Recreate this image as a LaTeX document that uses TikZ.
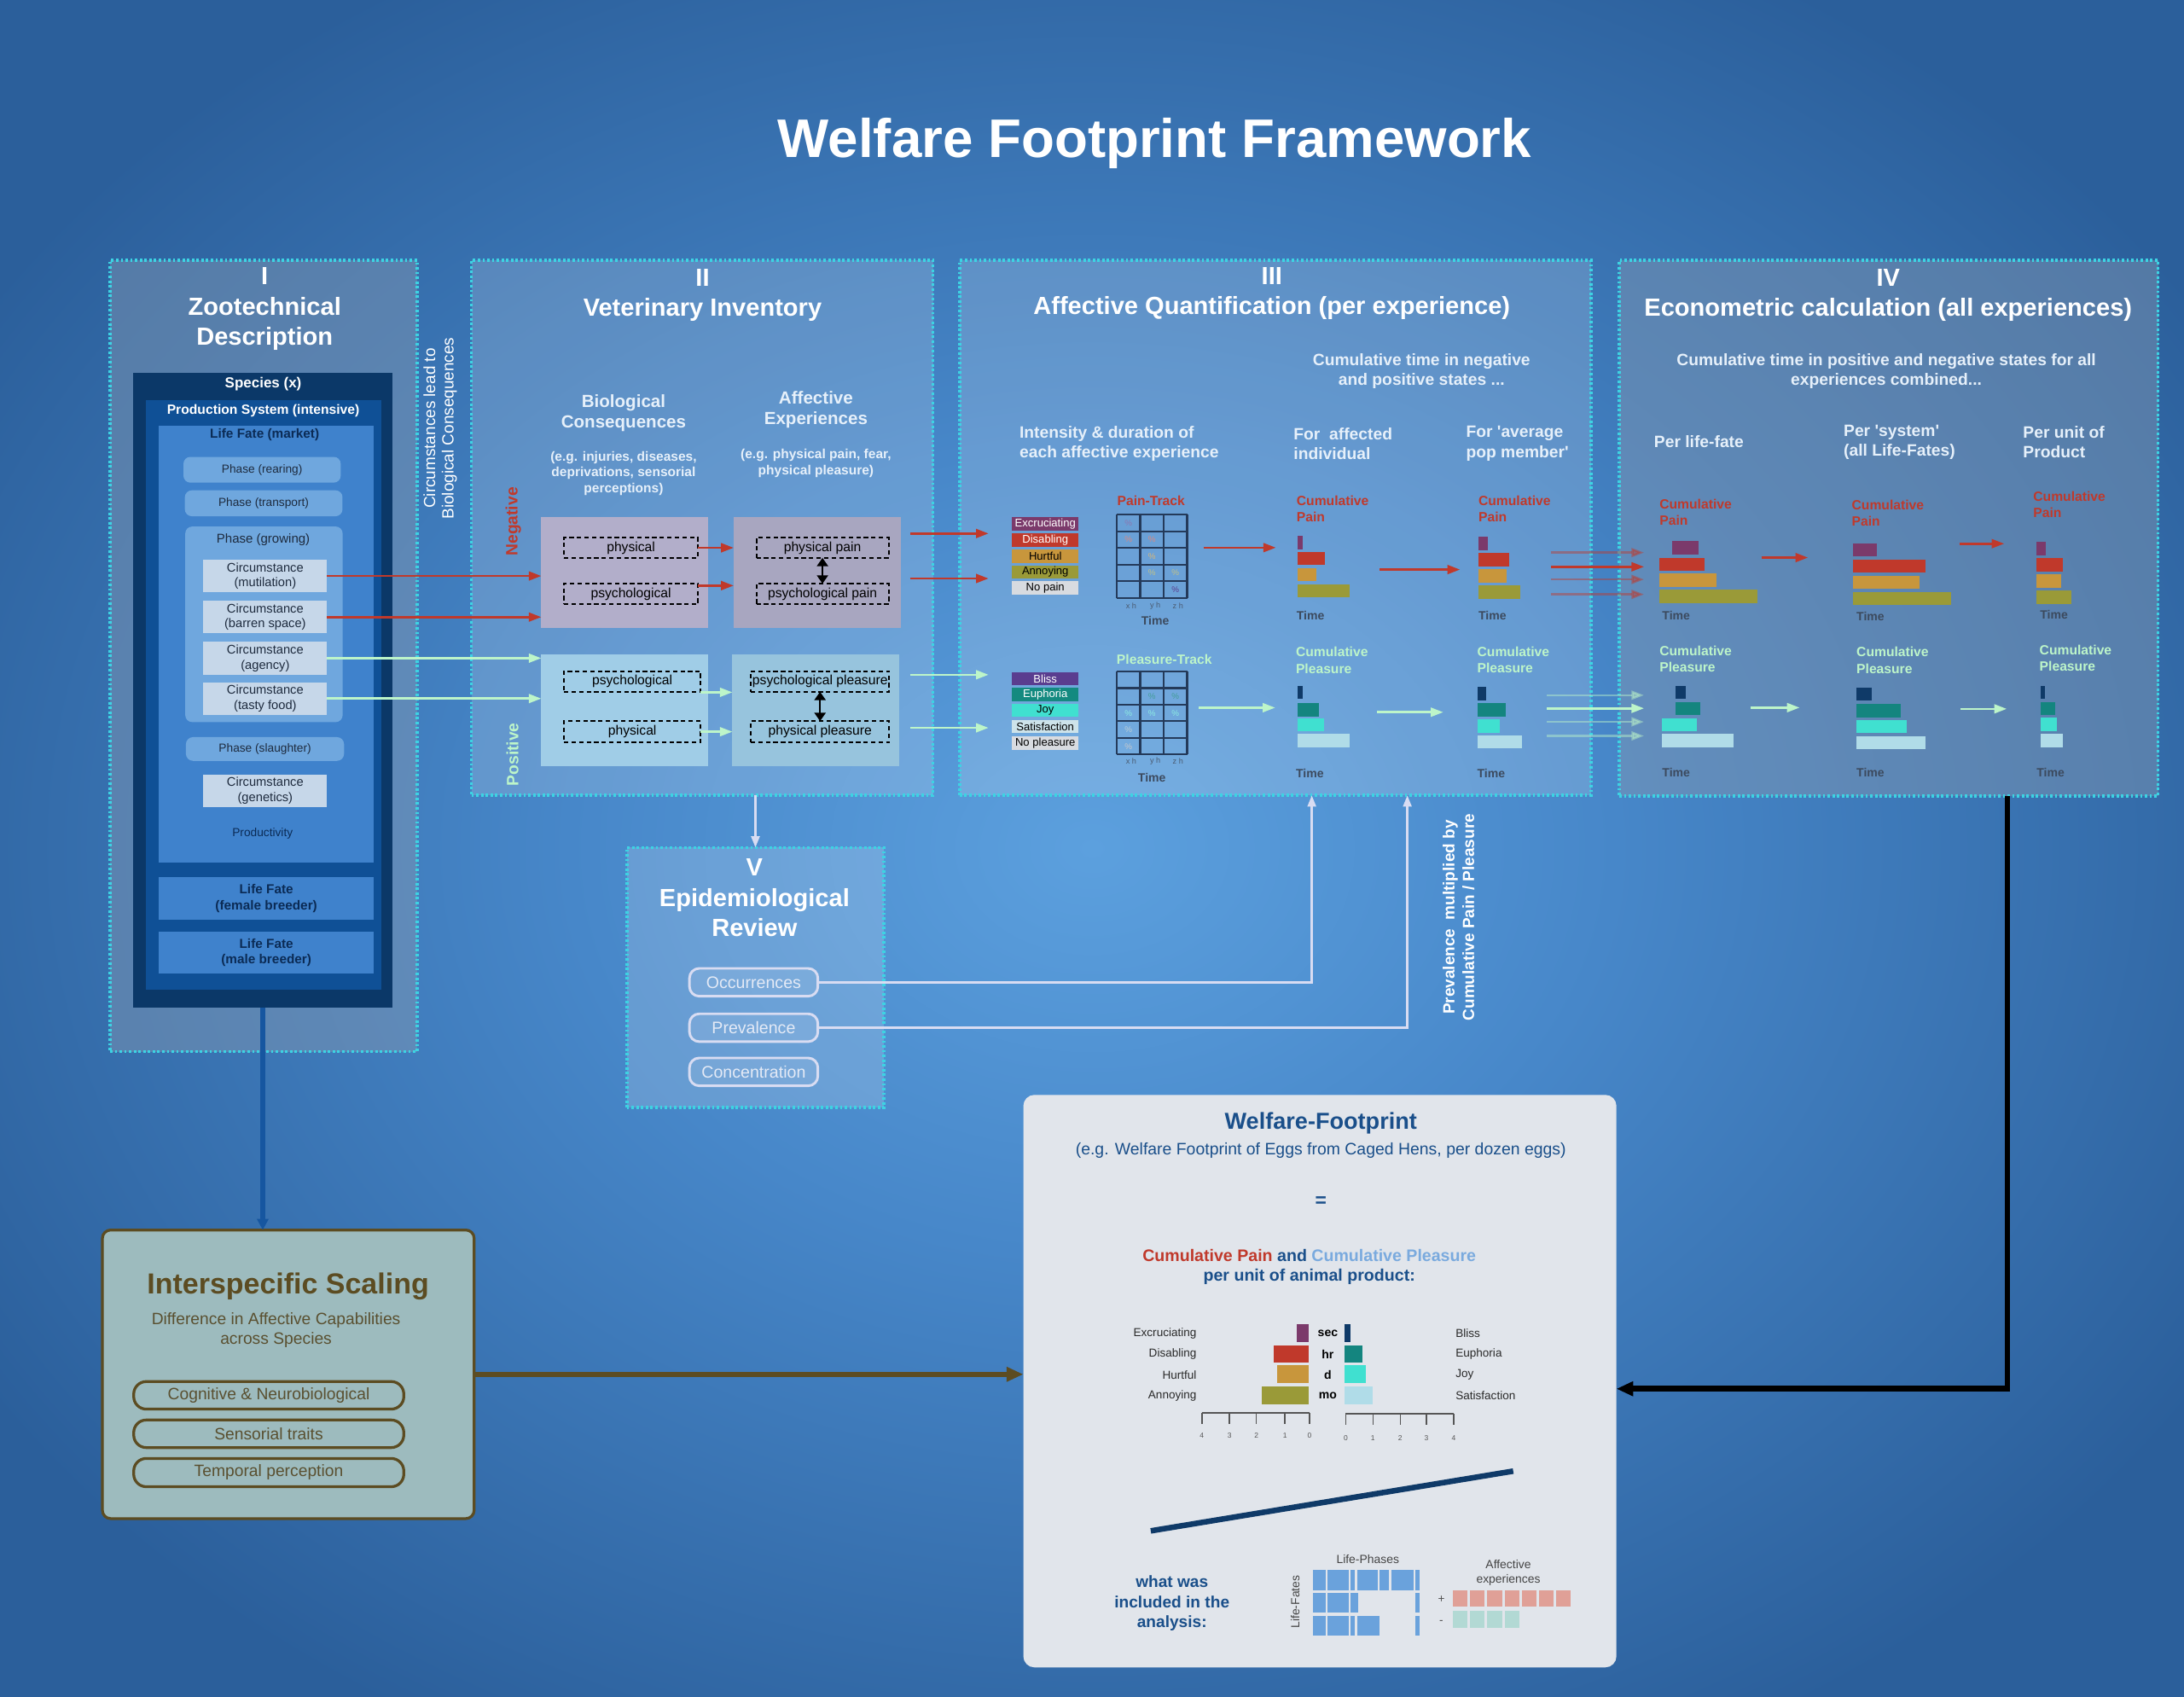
\documentclass[tikz,border=0pt]{standalone}
\usepackage{fontspec}
\setmainfont{Liberation Sans}
\usetikzlibrary{arrows.meta,fit}
\definecolor{bgin}{HTML}{5CA0DE}
\definecolor{bgmid}{HTML}{4787C9}
\definecolor{bgout}{HTML}{2B5F9B}
\definecolor{dotc}{HTML}{3DD3E3}
\definecolor{grayov}{HTML}{869AB2}
\definecolor{spnavy}{HTML}{0B3868}
\definecolor{prodblue}{HTML}{0F5096}
\definecolor{lfblue}{HTML}{3F82CC}
\definecolor{phblue}{HTML}{6FA7DE}
\definecolor{circ}{HTML}{C6D7E9}
\definecolor{navytxt}{HTML}{0B2B55}
\definecolor{darktxt}{HTML}{1E2B3E}
\definecolor{subc}{HTML}{E6F0FA}
\definecolor{negbio}{HTML}{B2AECA}
\definecolor{negaff}{HTML}{A8A6C0}
\definecolor{posbio}{HTML}{A0CDE7}
\definecolor{posaff}{HTML}{97C4DD}
\definecolor{painred}{HTML}{C0392B}
\definecolor{plgreen}{HTML}{BDF5C9}
\definecolor{pur}{HTML}{7B3A6B}
\definecolor{och}{HTML}{C8963C}
\definecolor{oli}{HTML}{9A9A38}
\definecolor{navyb}{HTML}{0F3A68}
\definecolor{tealb}{HTML}{14857F}
\definecolor{turq}{HTML}{40E0D0}
\definecolor{lightb}{HTML}{B0DCE8}
\definecolor{bliss}{HTML}{5A3D8F}
\definecolor{euph}{HTML}{148A80}
\definecolor{satis}{HTML}{CDE3EA}
\definecolor{nop}{HTML}{D8DBE0}
\definecolor{timec}{HTML}{3C4A5E}
\definecolor{gridc}{HTML}{243A5A}
\definecolor{wfbg}{HTML}{E1E5EB}
\definecolor{wfblue}{HTML}{1A4F8A}
\definecolor{plblue}{HTML}{7AAADE}
\definecolor{isbg}{HTML}{9DBBBE}
\definecolor{isbrown}{HTML}{5C4C22}
\definecolor{istext}{HTML}{5A5030}
\definecolor{lav}{HTML}{D8DCF2}
\definecolor{vtext}{HTML}{E4EAF6}
\definecolor{blockb}{HTML}{6AA2DC}
\definecolor{salmon}{HTML}{E0A097}
\definecolor{paleteal}{HTML}{B2D9D4}
\definecolor{chtxt}{HTML}{2A2A2A}
\definecolor{axc}{HTML}{555555}
\definecolor{arrblue}{HTML}{1656A0}
\definecolor{xhc}{HTML}{4A5A70}
\pgfdeclareradialshading{bgshade}{\pgfpoint{0bp}{0bp}}{color(0bp)=(bgin); color(12bp)=(bgmid); color(30bp)=(bgout); color(50bp)=(bgout)}
\newcommand\fs[2]{\fontsize{#1pt}{#2pt}\selectfont}
\newcommand\hb[4]{\fill[#4] (#1,#2) rectangle ++(#3,9.5);}
% box node: [options]{name}{x1}{y1}{x2}{y2}{text}
\newcommand\bx[7][]{\node[#1,minimum width={(#5-#3)*0.5pt},minimum height={(#6-#4)*0.5pt}] (#2) at ({(#3+#5)/2},{(#4+#6)/2}) {#7};}
\begin{document}
\begin{tikzpicture}[x=0.5pt,y=-0.5pt,
  every node/.style={inner sep=0pt,outer sep=0pt},
  secbox/.style={draw=dotc,line width=1.1pt,dash pattern=on 0.85pt off 0.85pt},
  sectitle/.style={text=white,font=\fs{8.9}{10.85}\bfseries,align=center},
  phbox/.style={fill=phblue,rounded corners=2.5pt,text=darktxt,font=\fs{4.2}{5}},
  cbox/.style={fill=circ,text=darktxt,font=\fs{4.5}{5.4},align=center},
  lfbox/.style={fill=lfblue,text=navytxt,font=\fs{4.7}{5.75}\bfseries,align=center},
  sub/.style={text=subc,font=\fs{6.3}{7.4}\bfseries,align=center},
  subs/.style={text=subc,font=\fs{4.75}{5.7}\bfseries,align=center},
  hd/.style={text=subc,font=\fs{5.9}{7.1}\bfseries,align=left,anchor=west},
  dbox/.style={draw=black,dash pattern=on 1.6pt off 1.1pt,line width=0.6pt,font=\fs{4.8}{5.8},text=black},
  cpain/.style={text=painred,font=\fs{4.8}{5.85}\bfseries,align=left,anchor=west},
  cplea/.style={text=plgreen,font=\fs{4.8}{5.85}\bfseries,align=left,anchor=west},
  timel/.style={text=timec,font=\fs{4.3}{5}\bfseries,anchor=west},
  lg/.style={font=\fs{4}{4.8}},
  xh/.style={text=xhc,font=\fs{2.8}{3.2}},
  pct/.style={font=\fs{3}{3.6}},
  gl/.style={draw=gridc,line width=0.65pt},
  redarr/.style={draw=painred,line width=0.8pt,-{Triangle[length=4.5pt,width=3.2pt]}},
  grnarr/.style={draw=plgreen,line width=0.8pt,-{Triangle[length=4.5pt,width=3.2pt]}},
  faint/.style={opacity=0.45},
  dblarr/.style={draw=black,line width=0.6pt,{Triangle[length=3pt,width=4pt]}-{Triangle[length=3pt,width=4pt]}},
  lavarr/.style={draw=lav,line width=0.75pt,-{Triangle[length=4pt,width=3pt]}},
  vopt/.style={draw=lav,line width=0.9pt,rounded corners=3.5pt,fill=white,fill opacity=0.1,text opacity=1,text=vtext,font=\fs{6}{7}},
  isopt/.style={draw=isbrown,line width=1pt,rounded corners=4.5pt,text=istext,font=\fs{5.9}{7}},
  chl/.style={font=\fs{4.15}{5},text=chtxt},
  chc/.style={font=\fs{4.3}{5}\bfseries,text=black},
  axl/.style={font=\fs{2.6}{3},text=axc},
  ax/.style={draw=axc,line width=0.5pt}
]
\useasboundingbox (0,0) rectangle (1568,1218);
\shade[shading=bgshade] (0,0) rectangle (1568,1218);

% ---------- title
\node[text=white,font=\fs{19.5}{23}\bfseries] (title) at (829,103) {Welfare Footprint Framework};

% ---------- section frames
\node[secbox,fill=grayov,fill opacity=0.45,fit={(79,187) (299.5,755)}] (S1) {};
\node[secbox,fill=white,fill opacity=0.17,fit={(338.5,187) (669.8,571)}] (S2) {};
\node[secbox,fill=white,fill opacity=0.17,fit={(689,187) (1142.3,571)}] (S3) {};
\node[secbox,fill=grayov,fill opacity=0.45,fit={(1162.5,187) (1549.3,571.5)}] (S4) {};
\node[secbox,fill=white,fill opacity=0.17,fit={(450,608.4) (634.7,795.2)}] (S5) {};

\node[sectitle] (t1) at (190,222) {I\\Zootechnical\\Description};
\node[sectitle] (t2) at (504.4,212) {II\\Veterinary Inventory};
\node[sectitle] (t3) at (913.1,210.7) {III\\Affective Quantification (per experience)};
\node[sectitle] (t4) at (1355.6,211.9) {IV\\Econometric calculation (all experiences)};
\node[sectitle] (t5) at (541.7,644.5) {V\\Epidemiological\\Review};

% ---------- section I
\node[fill=spnavy,fit={(95.6,267.8) (281.7,723.3)}] (species) {};
\node[text=white,font=\fs{5.2}{6}\bfseries] (spt) at (189,276) {Species (x)};
\node[fill=prodblue,fit={(104.7,287.5) (273.6,710.3)}] (prod) {};
\node[text=white,font=\fs{4.8}{6}\bfseries] (prodt) at (189,294.9) {Production System (intensive)};
\node[fill=lfblue,fit={(113.9,305.6) (268.5,619.2)}] (lfm) {};
\node[text=navytxt,font=\fs{4.7}{6}\bfseries] (lfmt) at (190,312.4) {Life Fate (market)};
\bx[phbox]{ph1}{131.7}{328}{244.6}{346.5}{Phase (rearing)}
\bx[phbox]{ph2}{132.7}{352}{245.9}{370.6}{Phase (transport)}
\bx[phbox]{ph3}{133}{378}{246}{518.4}{}
\node[text=darktxt,font=\fs{4.6}{5.5}] (ph3t) at (189,387.7) {Phase (growing)};
\bx[cbox]{c1}{146}{401.8}{234.8}{425.2}{Circumstance\\(mutilation)}
\bx[cbox]{c2}{146}{431.5}{234.8}{454.5}{Circumstance\\(barren space)}
\bx[cbox]{c3}{146}{460.8}{234.8}{484.2}{Circumstance\\(agency)}
\bx[cbox]{c4}{146}{489.8}{234.8}{513.2}{Circumstance\\(tasty food)}
\bx[phbox]{ph4}{133.5}{529.2}{247}{546.2}{Phase (slaughter)}
\bx[cbox]{c5}{146}{555.9}{234.8}{579.3}{Circumstance\\(genetics)}
\node[text=navytxt,font=\fs{4.2}{5}] (prodv) at (188.5,598.2) {Productivity};
\bx[lfbox]{lff}{113.9}{629.4}{268.5}{660.2}{Life Fate\\(female breeder)}
\bx[lfbox]{lfmale}{113.9}{668.7}{268.5}{699.1}{Life Fate\\(male breeder)}

\node[text=white,font=\fs{5.8}{6.6},rotate=90,align=center] (circlead) at (316,307.5) {Circumstances lead to\\Biological Consequences};

% ---------- section II
\node[sub] (bch) at (447.7,296.8) {Biological\\Consequences};
\node[subs] (bce) at (447.7,339.7) {(e.g. injuries, diseases,\\deprivations, sensorial\\perceptions)};
\node[sub] (aeh) at (585.8,294) {Affective\\Experiences};
\node[subs] (aee) at (585.8,332.6) {(e.g. physical pain, fear,\\physical pleasure)};

\node[fill=negbio,fit={(388.6,371.3) (508.3,451.1)}] (nb) {};
\node[fill=negaff,fit={(526.7,371.3) (646.6,451.1)}] (na) {};
\node[fill=posbio,fit={(388.6,469.9) (508.3,550)}] (pb) {};
\node[fill=posaff,fit={(525.8,469.9) (645.5,550)}] (pa) {};

\bx[dbox]{nb1}{404.9}{386}{501.1}{400.5}{physical}
\bx[dbox]{nb2}{404.9}{419}{501.1}{433.8}{psychological}
\bx[dbox]{na1}{543}{386}{638}{400.5}{physical pain}
\bx[dbox]{na2}{543}{419}{638}{433.8}{psychological pain}
\bx[dbox]{pb1}{404.9}{481.8}{503}{496.6}{psychological}
\bx[dbox]{pb2}{404.9}{517.7}{503}{532.9}{physical}
\bx[dbox]{pa1}{539}{481.8}{638.5}{496.6}{psychological pleasure}
\bx[dbox]{pa2}{539}{517.7}{638.5}{532.9}{physical pleasure}

\draw[redarr] (nb1.east) -- (nb1.east -| na.west);
\draw[redarr] ([yshift=3pt]nb2.east) -- ([yshift=3pt]nb2.east -| na.west);
\draw[grnarr] ([yshift=-3.9pt]pb1.east) -- ([yshift=-3.9pt]pb1.east -| pa.west);
\draw[grnarr] (pb2.east) -- (pb2.east -| pa.west);
\draw[dblarr] (na1.south) -- (na2.north);
\draw[dblarr] (pa1.south) -- (pa2.north);

\draw[redarr] (c1.east) -- (c1.east -| nb.west);
\draw[redarr] (c2.east) -- (c2.east -| nb.west);
\draw[grnarr] (c3.east) -- (c3.east -| pb.west);
\draw[grnarr] (c4.east) -- (c4.east -| pb.west);

\node[rotate=90,text=painred,font=\fs{5.9}{7}\bfseries] (neg) at (368.6,374.5) {Negative};
\node[rotate=90,text=plgreen,font=\fs{5.9}{7}\bfseries] (pos) at (368,541.6) {Positive};

% ---------- section III
\node[text=subc,font=\fs{5.9}{7.1}\bfseries,align=center] (cumtime) at (1020.6,266.6) {Cumulative time in negative\\and positive states ...};
\node[hd] (int) at (732,318.4) {Intensity \& duration of\\each affective experience};
\node[hd] (faff) at (928.8,318.4) {For\ \ affected\\individual};
\node[hd] (favg) at (1052.6,318.4) {For \textquotesingle average\\pop member\textquotesingle};

\bx[lg,fill=pur,text=white]{lx}{726.7}{371.3}{774.2}{381}{Excruciating}
\bx[lg,fill=painred,text=white]{ld}{726.7}{382.9}{774.2}{392.5}{Disabling}
\bx[lg,fill=och,text=black]{lh}{726.7}{394.4}{774.2}{404}{Hurtful}
\bx[lg,fill=oli,text=black]{la}{726.7}{405.9}{774.2}{415.5}{Annoying}
\bx[lg,fill=nop,text=black]{ln}{726.7}{417.4}{774.2}{427}{No pain}

\bx[lg,fill=bliss,text=white]{lb}{726.7}{482.6}{774.2}{492}{Bliss}
\bx[lg,fill=euph,text=white]{le}{726.7}{493.8}{774.2}{503.4}{Euphoria}
\bx[lg,fill=turq,text=black]{lj}{726.7}{505.2}{774.2}{514.8}{Joy}
\bx[lg,fill=satis,text=black]{ls}{726.7}{516.8}{774.2}{526.4}{Satisfaction}
\bx[lg,fill=nop,text=black]{lnp}{726.7}{528.4}{774.2}{538.3}{No pleasure}

\coordinate (o1) at (653.5,383);
\coordinate (o2) at (653.5,415.3);
\coordinate (o3) at (653.5,484.4);
\coordinate (o4) at (653.5,522.5);
\draw[redarr] (o1) -- ([xshift=-8.5pt]o1 -| lx.west);
\draw[redarr] (o2) -- ([xshift=-8.5pt]o2 -| lx.west);
\draw[grnarr] (o3) -- ([xshift=-8.5pt]o3 -| lb.west);
\draw[grnarr] (o4) -- ([xshift=-8.5pt]o4 -| lb.west);

% pain track
\node[text=painred,font=\fs{4.8}{5.8}\bfseries] (ptt) at (826.4,359.6) {Pain-Track};
\node[fit={(801.7,369.5) (852.3,429.2)}] (pgrid) {};
\foreach \i in {0,...,3} \draw[gl] (801.7+\i*16.867,369.5) -- (801.7+\i*16.867,429.2);
\foreach \j in {0,...,5} \draw[gl] (801.7,369.5+\j*11.94) -- (852.3,369.5+\j*11.94);
\node[pct,text=bliss!70!white] (pp1) at (810.1,375.5) {\%};
\node[pct,text=painred!60!white] (pp2) at (810.1,387.4) {\%};
\node[pct,text=painred!60!white] (pp3) at (827,387.4) {\%};
\node[pct,text=och!70!white] (pp4) at (827,399.4) {\%};
\node[pct,text=oli!60!white] (pp5) at (827,411.3) {\%};
\node[pct,text=oli!60!white] (pp6) at (843.9,411.3) {\%};
\node[pct,text=bliss] (pp7) at (843.9,423.3) {\%};
\node[xh] (px1) at (812.1,434.8) {x h};
\node[xh] (px2) at (829.4,434.8) {y h};
\node[xh] (px3) at (845.7,434.8) {z h};
\node[timel,anchor=center] (ptime) at (829.4,445.3) {Time};

% pleasure track
\node[text=plgreen,font=\fs{4.8}{5.8}\bfseries] (plt) at (835.9,473.7) {Pleasure-Track};
\node[fit={(801.7,482.1) (852.3,541.6)}] (plgrid) {};
\foreach \i in {0,...,3} \draw[gl] (801.7+\i*16.867,482.1) -- (801.7+\i*16.867,541.6);
\foreach \j in {0,...,5} \draw[gl] (801.7,482.1+\j*11.9) -- (852.3,482.1+\j*11.9);
\node[pct,text=tealb!80!white] (lp1) at (827,500) {\%};
\node[pct,text=tealb!80!white] (lp2) at (843.9,500) {\%};
\node[pct,text=turq!60!white] (lp3) at (810.1,512) {\%};
\node[pct,text=turq!60!white] (lp4) at (827,512) {\%};
\node[pct,text=turq!60!white] (lp5) at (843.9,512) {\%};
\node[pct,text=satis!80!gray] (lp6) at (810.1,523.9) {\%};
\node[pct,text=nop!80!gray] (lp7) at (810.1,535.9) {\%};
\node[xh] (lx1) at (812.1,546.6) {x h};
\node[xh] (lx2) at (829.4,546.6) {y h};
\node[xh] (lx3) at (845.7,546.6) {z h};
\node[timel,anchor=center] (ltime) at (827,558.1) {Time};

\draw[redarr] ([xshift=5.85pt,yshift=3.1pt]pgrid.east) -- ++(52,0);
\draw[grnarr] ([xshift=4.15pt,yshift=1.9pt]plgrid.east) -- ++(54.9,0);

% affected individual
\node[cpain] (cp1) at (930.9,365.5) {Cumulative\\Pain};
\hb{931.8}{384.8}{3.6}{pur}
\hb{931.8}{396.2}{19.3}{painred}
\hb{931.8}{407.9}{13.1}{och}
\hb{931.8}{419.3}{37.1}{oli}
\node[timel] (tm1) at (930.9,442) {Time};
\node[cplea] (cl1) at (930.4,474) {Cumulative\\Pleasure};
\hb{931.8}{492.3}{3.6}{navyb}
\hb{931.8}{504.9}{15.1}{tealb}
\hb{931.8}{515.6}{19}{turq}
\hb{931.8}{527}{37.4}{lightb}
\node[timel] (tm2) at (930.4,555) {Time};

\coordinate (a1) at (990.3,408.9);
\coordinate (a2) at (988.7,511.3);
\draw[redarr] (a1) -- ++(57.9,0);
\draw[grnarr] (a2) -- ++(47.5,0);

% average pop member
\node[cpain] (cp2) at (1061.5,365.5) {Cumulative\\Pain};
\hb{1061.5}{385.5}{6.5}{pur}
\hb{1061.5}{397}{21.7}{painred}
\hb{1061.5}{408.7}{20.2}{och}
\hb{1061.5}{420.3}{29.7}{oli}
\node[timel] (tm3) at (1061.5,442) {Time};
\node[cplea] (cl2) at (1060.6,473.5) {Cumulative\\Pleasure};
\hb{1060.6}{493.2}{6.2}{navyb}
\hb{1060.6}{504.7}{20.2}{tealb}
\hb{1060.6}{516.4}{16}{turq}
\hb{1060.6}{527.8}{32}{lightb}
\node[timel] (tm4) at (1060.6,555) {Time};

% arrows III -> IV
\coordinate (b1) at (1113.5,396.7);
\coordinate (b2) at (1113.8,406.9);
\coordinate (b3) at (1113.5,416);
\coordinate (b4) at (1113.5,426.7);
\coordinate (g1) at (1110.5,499.1);
\coordinate (g2) at (1110.5,508.5);
\coordinate (g3) at (1110.5,518.2);
\coordinate (g4) at (1110.5,528.3);
\draw[redarr,faint] (b1) -- ([xshift=8.9pt]b1 -| S4.west);
\draw[redarr] (b2) -- ([xshift=8.9pt]b2 -| S4.west);
\draw[redarr,faint] (b3) -- ([xshift=8.9pt]b3 -| S4.west);
\draw[redarr,faint] (b4) -- ([xshift=8.9pt]b4 -| S4.west);
\draw[grnarr,faint] (g1) -- ([xshift=8.9pt]g1 -| S4.west);
\draw[grnarr] (g2) -- ([xshift=8.9pt]g2 -| S4.west);
\draw[grnarr,faint] (g3) -- ([xshift=8.9pt]g3 -| S4.west);
\draw[grnarr,faint] (g4) -- ([xshift=8.9pt]g4 -| S4.west);

% ---------- section IV
\node[text=subc,font=\fs{5.9}{7.1}\bfseries,align=center] (cumall) at (1354.3,266.6) {Cumulative time in positive and negative states for all\\experiences combined...};
\node[hd] (plf) at (1187.6,316.9) {Per life-fate};
\node[hd] (psys) at (1323.7,317.4) {Per \textquotesingle system\textquotesingle\\(all Life-Fates)};
\node[hd] (punit) at (1452.5,317.4) {Per unit of\\Product};

\node[cpain] (cp3) at (1191.5,368) {Cumulative\\Pain};
\hb{1200.6}{388.6}{18.9}{pur}
\hb{1191.3}{400.3}{32.7}{painred}
\hb{1191.3}{411.8}{41.3}{och}
\hb{1191.3}{423.4}{70.6}{oli}
\node[timel] (tm5) at (1193.4,442) {Time};

\node[cpain] (cp4) at (1329.5,368.3) {Cumulative\\Pain};
\hb{1330.5}{390}{17}{pur}
\hb{1330.5}{401.6}{52.1}{painred}
\hb{1330.5}{413.3}{47.9}{och}
\hb{1330.5}{424.9}{70.4}{oli}
\node[timel] (tm6) at (1332.9,442.8) {Time};

\node[cpain] (cp5) at (1459.8,362.5) {Cumulative\\Pain};
\hb{1462.3}{389}{6.3}{pur}
\hb{1462.3}{400.7}{18.8}{painred}
\hb{1462.3}{412.4}{17.3}{och}
\hb{1462.3}{424}{25.1}{oli}
\node[timel] (tm7) at (1464.7,441.6) {Time};

\node[cplea] (cl3) at (1191.5,473.1) {Cumulative\\Pleasure};
\hb{1203}{492.3}{7.4}{navyb}
\hb{1203}{503.9}{17.8}{tealb}
\hb{1193.4}{515.6}{24.9}{turq}
\hb{1193.4}{527}{51}{lightb}
\node[timel] (tm8) at (1193.4,554.4) {Time};

\node[cplea] (cl4) at (1332.9,474) {Cumulative\\Pleasure};
\hb{1332.6}{493.6}{11}{navyb}
\hb{1332.6}{505.5}{31.9}{tealb}
\hb{1332.6}{516.9}{36.6}{turq}
\hb{1332.6}{528.3}{49.7}{lightb}
\node[timel] (tm9) at (1332.9,554.4) {Time};

\node[cplea] (cl5) at (1464.3,472.4) {Cumulative\\Pleasure};
\hb{1465.1}{492.3}{3.1}{navyb}
\hb{1465.1}{503.9}{10.2}{tealb}
\hb{1465.1}{515.4}{11.8}{turq}
\hb{1465.1}{527}{15.7}{lightb}
\node[timel] (tm10) at (1462.2,554.4) {Time};

\coordinate (d1) at (1264.5,400.3);
\coordinate (d2) at (1406.7,390.3);
\coordinate (d3) at (1256.7,508);
\coordinate (d4) at (1407.5,508.9);
\draw[redarr] (d1) -- ++(33.5,0);
\draw[redarr] (d2) -- ++(32.2,0);
\draw[grnarr] (d3) -- ++(35.3,0);
\draw[grnarr] (d4) -- ++(33.2,0);

% ---------- section V
\bx[vopt]{occ}{495}{695.2}{587.2}{715.2}{Occurrences}
\bx[vopt]{prev}{495}{727.8}{587.2}{747.8}{Prevalence}
\bx[vopt]{conc}{495}{759.5}{587.2}{779.5}{Concentration}
\draw[lavarr] (S5.north |- S2.south) -- (S5.north);
\draw[lavarr] (occ.east) -| ([xshift=13.07pt]S3.south);
\draw[lavarr] (prev.east) -| ([xshift=47.37pt]S3.south);
\node[rotate=90,text=white,font=\fs{5.8}{7}\bfseries,align=center] (prevt) at (1047.2,658.5) {Prevalence\ \ multiplied by\\Cumulative Pain / Pleasure};

% ---------- interspecific scaling
\node[fill=isbg,draw=isbrown,line width=1pt,rounded corners=3pt,fit={(73.5,883) (340.4,1090.2)}] (is) {};
\node[text=isbrown,font=\fs{10.4}{12}\bfseries] (ist) at (206.8,923.8) {Interspecific Scaling};
\node[text=istext,font=\fs{5.9}{7.05},align=center] (iss) at (198.2,955) {Difference in Affective Capabilities\\across Species};
\bx[isopt]{io1}{96}{991.8}{289.9}{1011.6}{Cognitive \& Neurobiological}
\bx[isopt]{io2}{96}{1019.4}{289.9}{1039.2}{Sensorial traits}
\bx[isopt]{io3}{96}{1047}{289.9}{1067.3}{Temporal perception}

% ---------- welfare footprint box
\node[fill=wfbg,rounded corners=4pt,fit={(734.7,786) (1160.5,1197)}] (wf) {};
\node[text=wfblue,font=\fs{8.3}{10}\bfseries] (wft) at (948.3,806.5) {Welfare-Footprint};
\node[text=wfblue,font=\fs{5.95}{7}] (wfs) at (948.3,825.8) {(e.g. Welfare Footprint of Eggs from Caged Hens, per dozen eggs)};
\node[text=wfblue,font=\fs{7}{8}\bfseries] (wfeq) at (948.3,862.6) {=};
\node[text=wfblue,font=\fs{6}{7.15}\bfseries,align=center] (wfc) at (940,909.5) {\textcolor{painred}{Cumulative Pain} and \textcolor{plblue}{Cumulative Pleasure}\\per unit of animal product:};

\node[chl,anchor=east] (wl1) at (859,957.1) {Excruciating};
\node[chl,anchor=east] (wl2) at (859,972.2) {Disabling};
\node[chl,anchor=east] (wl3) at (859,986.9) {Hurtful};
\node[chl,anchor=east] (wl4) at (859,1002) {Annoying};
\node[chc] (wc1) at (953.3,957.1) {sec};
\node[chc] (wc2) at (953.3,972.2) {hr};
\node[chc] (wc3) at (953.3,986.9) {d};
\node[chc] (wc4) at (953.3,1002) {mo};
\node[chl,anchor=west] (wr1) at (1045.1,957.1) {Bliss};
\node[chl,anchor=west] (wr2) at (1045.1,972.2) {Euphoria};
\node[chl,anchor=west] (wr3) at (1045.1,986.9) {Joy};
\node[chl,anchor=west] (wr4) at (1045.1,1002) {Satisfaction};
\fill[pur] (931.2,950.6) rectangle (939.5,963.2);
\fill[painred] (914.4,965.7) rectangle (939.5,978.3);
\fill[och] (916.7,980.3) rectangle (939.5,992.6);
\fill[oli] (905.8,995.2) rectangle (939.5,1007.9);
\fill[navyb] (965.5,950.6) rectangle (969.4,963.2);
\fill[tealb] (965.5,965.7) rectangle (978.4,978.3);
\fill[turq] (965.5,980.3) rectangle (980.4,992.6);
\fill[lightb] (965.5,995.2) rectangle (985.7,1007.9);
\draw[ax] (862.9,1014.3) -- (940.2,1014.3);
\foreach \x/\l in {862.9/4,882.7/3,902/2,922.5/1,940.2/0} {
  \draw[ax] (\x,1014.3) -- (\x,1022.4);
  \node[axl] at (\x,1030.6) {\l};
}
\draw[ax] (966.2,1014.8) -- (1043.6,1014.8);
\foreach \x/\l in {966.2/0,985.7/1,1005.3/2,1024.1/3,1043.6/4} {
  \draw[ax] (\x,1014.8) -- (\x,1022.9);
  \node[axl] at (\x,1032.6) {\l};
}
\draw[navyb,line width=2pt] (826.2,1099) -- (1086.4,1056.1);

\node[text=wfblue,font=\fs{5.85}{7.2}\bfseries,align=center] (wwi) at (841.4,1151.2) {what was\\included in the\\analysis:};
\node[chl,text=axc!80!black,font=\fs{4.26}{5}] (lph) at (982,1119.4) {Life-Phases};
\node[chl,text=axc!80!black,font=\fs{4.26}{5},rotate=90] (lft) at (929.8,1150) {Life-Fates};
\foreach \a/\b in {942.7/951.8,953/968.4,969.6/972.9,974.3/989.3,990.5/997.3,998.7/1014.9,1016/1019.1}
  \fill[blockb] (\a,1127) rectangle (\b,1141.6);
\foreach \a/\b in {942.7/951.8,953/968.4,969.6/974.8,1016/1019.1}
  \fill[blockb] (\a,1143.3) rectangle (\b,1157.8);
\foreach \a/\b in {942.7/951.8,953/968.4,969.6/972.9,974.3/990.3,1016/1019.1}
  \fill[blockb] (\a,1159.9) rectangle (\b,1174.3);
\node[chl,text=axc!80!black,font=\fs{4.26}{5.3},align=center] (aexp) at (1082.9,1129.2) {Affective\\experiences};
\node[chl,text=axc] (plus) at (1034.8,1148.4) {+};
\node[chl,text=axc] (minus) at (1034.8,1164.7) {-};
\foreach \i in {0,...,6} \fill[salmon] (1043+\i*12.4,1141.7) rectangle ++(10.5,11.4);
\foreach \i in {0,...,3} \fill[paleteal] (1043+\i*12.4,1156.6) rectangle ++(10.5,11.8);

% ---------- long connectors
\draw[arrblue,line width=1.8pt,-{Triangle[length=4pt,width=4pt]}] (species.south) -- (species.south |- is.north);
\draw[isbrown,line width=2pt,-{Triangle[length=6pt,width=5pt]}] (is.east) -- (is.east -| wf.west);
\coordinate (k1) at (1441.2,571.5);
\draw[black,line width=2pt,-{Triangle[length=6pt,width=5pt]}] (k1) |- ([yshift=-2.75pt]wf.east);
\end{tikzpicture}
\end{document}
